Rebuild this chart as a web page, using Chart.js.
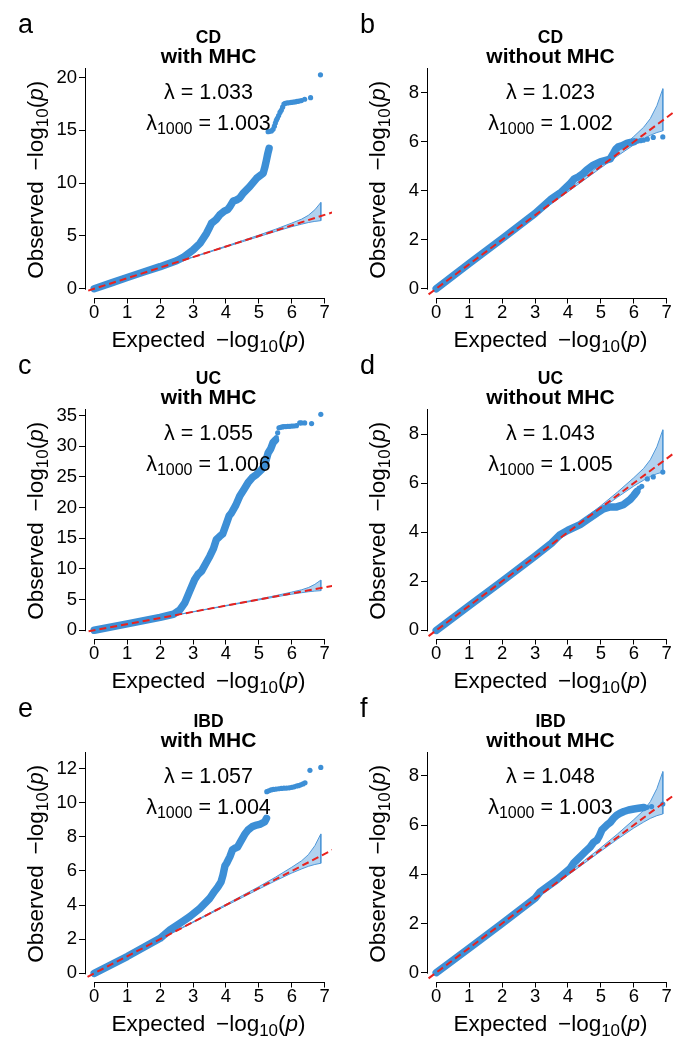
<!DOCTYPE html>
<html>
<head>
<meta charset="utf-8">
<script src="https://cdn.jsdelivr.net/npm/chart.js@4/dist/chart.umd.min.js"></script>
<style>
  body { margin: 0; background: #fff; }
  #wrap { position: relative; width: 685px; height: 1050px; }
  #wrap canvas { position: absolute; }
</style>
</head>
<body>
<div id="wrap"></div>
<script>
// ---- data ----
const ticksX = [0, 1, 2, 3, 4, 5, 6, 7];
const ticksA = [0, 5, 10, 15, 20];
const ticksC = [0, 5, 10, 15, 20, 25, 30, 35];
const ticksE = [0, 2, 4, 6, 8, 10, 12];
const ticks8 = [0, 2, 4, 6, 8];

// null line y = x
const diag = [-0.5, 7.5];

// 95% band (same number of SNPs in all panels)
const ciExp = [0, 2, 3, 4, 4.5, 5, 5.5, 6, 6.3, 6.5, 6.7, 6.88];
const ciHi = [0, 2.01, 3.02, 4.04, 4.56, 5.08, 5.63, 6.22, 6.6, 6.95, 7.48, 8.17];
const ciLo = [0, 1.99, 2.98, 3.96, 4.45, 4.94, 5.42, 5.88, 6.12, 6.27, 6.38, 6.45];

// a: CD with MHC
const aExp = [0, 0.5, 1, 1.5, 2, 2.5, 2.7, 3.0, 3.21, 3.41, 3.5, 3.56, 3.7, 3.81, 3.95, 4.05, 4.12, 4.22, 4.32, 4.42, 4.52, 4.72, 4.93, 5.05, 5.13, 5.18, 5.23, 5.27, 5.31];
const aObs = [0, 0.53, 1.07, 1.58, 2.09, 2.65, 2.97, 3.67, 4.3, 5.25, 5.8, 6.2, 6.55, 6.99, 7.35, 7.5, 7.77, 8.3, 8.41, 8.6, 9.04, 9.67, 10.46, 10.75, 10.94, 11.5, 12.2, 12.8, 13.3];
const aTopExp = [5.28, 5.33, 5.38, 5.43, 5.47, 5.5, 5.53, 5.56, 5.6, 5.64, 5.68, 5.72, 5.76, 5.8, 5.86, 5.92, 5.98, 6.04, 6.1, 6.16, 6.22, 6.29, 6.39, 6.57, 6.87];
const aTopObs = [14.88, 14.92, 14.95, 15.1, 15.4, 15.7, 15.95, 16.15, 16.4, 16.7, 16.9, 17.2, 17.5, 17.57, 17.6, 17.62, 17.65, 17.68, 17.7, 17.74, 17.78, 17.82, 17.95, 18.1, 20.26];

// b: CD without MHC
const bExp = [0, 1, 2, 3, 3.5, 3.8, 4.07, 4.2, 4.32, 4.45, 4.57, 4.77, 4.98, 5.15, 5.28, 5.38, 5.45, 5.53, 5.65, 5.8, 5.9, 6.0];
const bObs = [0, 1.03, 2.04, 3.07, 3.67, 3.95, 4.3, 4.5, 4.57, 4.7, 4.85, 5.05, 5.18, 5.25, 5.3, 5.53, 5.7, 5.8, 5.85, 5.95, 5.98, 6.0];
const bTopExp = [6.1, 6.2, 6.29, 6.41, 6.59, 6.88];
const bTopObs = [6.03, 6.05, 6.07, 6.11, 6.18, 6.2];

// c: UC with MHC
const cExp = [0, 1, 2, 2.4, 2.6, 2.75, 2.9, 3.05, 3.15, 3.26, 3.4, 3.51, 3.62, 3.71, 3.81, 3.9, 4.02, 4.1, 4.17, 4.3, 4.42, 4.55, 4.67, 4.8, 4.93, 5.08, 5.18, 5.28, 5.36, 5.43, 5.5];
const cObs = [0, 1.03, 2.1, 2.6, 3.3, 4.46, 6.37, 8.27, 9.1, 9.63, 11.0, 12.07, 13.3, 14.8, 15.3, 15.7, 17.5, 18.7, 19.15, 20.4, 21.9, 23.0, 24.05, 24.9, 25.4, 26.2, 27.0, 28.9, 29.6, 30.6, 31.0];
const cTopExp = [5.53, 5.57, 5.61, 5.66, 5.71, 5.76, 5.82, 5.88, 5.94, 6.0, 6.06, 6.14, 6.24, 6.29, 6.39, 6.6, 6.88];
const cTopObs = [31.4, 32.2, 33.0, 33.1, 33.15, 33.2, 33.2, 33.25, 33.25, 33.3, 33.3, 33.35, 33.8, 33.8, 33.8, 33.7, 35.2];

// d: UC without MHC
const dExp = [0, 1, 2, 3, 3.5, 3.76, 4.0, 4.37, 4.6, 4.88, 5.08, 5.28, 5.48, 5.68, 5.89, 6.0, 6.09];
const dObs = [0, 1.0, 2.0, 3.02, 3.55, 3.9, 4.08, 4.31, 4.52, 4.78, 4.95, 5.03, 5.03, 5.12, 5.33, 5.5, 5.66];
const dTopExp = [6.16, 6.24, 6.41, 6.59, 6.88];
const dTopObs = [5.8, 5.87, 6.17, 6.25, 6.45];

// e: IBD with MHC
const eExp = [0, 1, 2, 2.3, 2.6, 2.9, 3.21, 3.51, 3.65, 3.76, 3.85, 3.91, 3.97, 4.02, 4.12, 4.2, 4.27, 4.35, 4.47, 4.57, 4.67, 4.8, 4.93, 5.05, 5.18, 5.23];
const eObs = [0, 0.98, 2.05, 2.54, 2.93, 3.32, 3.81, 4.4, 4.8, 5.08, 5.35, 5.76, 6.3, 6.45, 6.84, 7.25, 7.33, 7.4, 7.81, 8.15, 8.4, 8.6, 8.69, 8.75, 8.89, 9.08];
const eTopExp = [5.24, 5.3, 5.37, 5.44, 5.52, 5.6, 5.68, 5.76, 5.84, 5.92, 6.0, 6.07, 6.14, 6.2, 6.27, 6.34, 6.4, 6.55, 6.88];
const eTopObs = [10.65, 10.7, 10.75, 10.78, 10.8, 10.82, 10.84, 10.85, 10.86, 10.87, 10.9, 10.93, 10.98, 11.0, 11.05, 11.1, 11.17, 11.9, 12.07];

// f: IBD without MHC
const fExp = [0, 1, 2, 3, 3.16, 3.66, 4.07, 4.17, 4.27, 4.42, 4.55, 4.67, 4.78, 4.88, 4.95, 5.03, 5.18, 5.28, 5.38, 5.48, 5.58, 5.7, 5.84, 6.0, 6.14, 6.3];
const fObs = [0, 0.99, 2.0, 3.02, 3.29, 3.77, 4.24, 4.45, 4.58, 4.78, 4.95, 5.1, 5.3, 5.39, 5.55, 5.8, 6.0, 6.1, 6.27, 6.4, 6.48, 6.55, 6.61, 6.65, 6.68, 6.71];
const fTopExp = [6.4, 6.54, 6.88];
const fTopObs = [6.72, 6.75, 6.85];

const panels = [
  { tag: 'a', dis: 'CD', sub: 'with MHC', lam: '1.033', lam1000: '1.003', ex: aExp, ob: aObs, tx: aTopExp, ty: aTopObs, yt: ticksA, yMin: -0.83, yMax: 21.1, left: 0, top: 0 },
  { tag: 'b', dis: 'CD', sub: 'without MHC', lam: '1.023', lam1000: '1.002', ex: bExp, ob: bObs, tx: bTopExp, ty: bTopObs, yt: ticks8, yMin: -0.36, yMax: 9.1, left: 342, top: 0 },
  { tag: 'c', dis: 'UC', sub: 'with MHC', lam: '1.055', lam1000: '1.006', ex: cExp, ob: cObs, tx: cTopExp, ty: cTopObs, yt: ticksC, yMin: -1.35, yMax: 36.4, left: 0, top: 341 },
  { tag: 'd', dis: 'UC', sub: 'without MHC', lam: '1.043', lam1000: '1.005', ex: dExp, ob: dObs, tx: dTopExp, ty: dTopObs, yt: ticks8, yMin: -0.33, yMax: 9.1, left: 342, top: 341 },
  { tag: 'e', dis: 'IBD', sub: 'with MHC', lam: '1.057', lam1000: '1.004', ex: eExp, ob: eObs, tx: eTopExp, ty: eTopObs, yt: ticksE, yMin: -0.48, yMax: 13.09, left: 0, top: 684 },
  { tag: 'f', dis: 'IBD', sub: 'without MHC', lam: '1.048', lam1000: '1.003', ex: fExp, ob: fObs, tx: fTopExp, ty: fTopObs, yt: ticks8, yMin: -0.36, yMax: 9.05, left: 342, top: 684 }
];

const BLUE = '#3d8fd6';
const FAM = '"Liberation Sans", Arial, Helvetica, sans-serif';
const f = (size, w) => (w || '') + ' ' + size + 'px ' + FAM;

function pts(xs, ys) { return xs.map((v, i) => ({ x: v, y: ys[i] })); }

// draw a centred line made of pieces [text, font, dy]
function rich(ctx, parts, x, y) {
  let w = 0;
  parts.forEach(p => { ctx.font = p[1]; w += ctx.measureText(p[0]).width; });
  let cx = x - w / 2;
  ctx.textAlign = 'left';
  ctx.textBaseline = 'alphabetic';
  parts.forEach(p => {
    ctx.font = p[1];
    ctx.fillText(p[0], cx, y + (p[2] || 0));
    cx += ctx.measureText(p[0]).width;
  });
}

const deco = {
  id: 'deco',
  afterDraw(chart) {
    const p = chart.config.options.plugins.deco;
    const { ctx, chartArea: ca, scales: { x, y } } = chart;
    ctx.save();
    // axis lines
    ctx.strokeStyle = '#000';
    ctx.lineWidth = 1;
    ctx.beginPath();
    const lx = Math.round(ca.left) + 0.5, by = Math.round(ca.bottom) + 0.5;
    ctx.moveTo(lx, ca.top + 2);
    ctx.lineTo(lx, y.getPixelForValue(0) + 1);
    ctx.moveTo(x.getPixelForValue(ticksX[0]), by);
    ctx.lineTo(x.getPixelForValue(ticksX[ticksX.length - 1]), by);
    ctx.stroke();

    ctx.fillStyle = '#000';
    const cx = (ca.left + ca.right) / 2;
    // panel letter
    ctx.font = f(27);
    ctx.textAlign = 'left';
    ctx.textBaseline = 'alphabetic';
    ctx.fillText(p.tag, 18, 33);
    // titles
    rich(ctx, [[p.dis, f(17.5, 'bold')]], cx, ca.top - 22.7);
    rich(ctx, [[p.sub, f(21, 'bold')]], cx, ca.top - 2.7);
    // lambda
    rich(ctx, [['\u03bb = ' + p.lam, f(21.5)]], cx, ca.top + 33);
    rich(ctx, [['\u03bb', f(21.5)], ['1000', f(16), 4], [' = ' + p.lam1000, f(21.5)]], cx, ca.top + 64);
    // axis titles
    const lab = w => [[w + ' \u2009\u2212log', f(22.5)], ['10', f(17), 5], ['(', f(22.5)], ['p', f(22.5, 'italic')], [')', f(22.5)]];
    rich(ctx, lab('Expected'), cx, ca.bottom + 49);
    ctx.translate(ca.left - 41.7, (ca.top + ca.bottom) / 2 - 2);
    ctx.rotate(-Math.PI / 2);
    rich(ctx, lab('Observed'), 0, 0);
    ctx.restore();
  }
};

const wrap = document.getElementById('wrap');
panels.forEach(p => {
  const cv = document.createElement('canvas');
  cv.width = 342; cv.height = 362;
  cv.style.left = p.left + 'px';
  cv.style.top = p.top + 'px';
  wrap.appendChild(cv);

  const band = pts(ciExp, ciHi).concat(pts(ciExp, ciLo).reverse());
  const axisTicks = vals => s => { s.ticks = vals.map(v => ({ value: v })); };
  const tickFont = { family: FAM, size: 18.5 };

  new Chart(cv, {
    type: 'line',
    data: {
      datasets: [
        { data: pts(diag, diag), borderColor: '#e8221e', borderWidth: 2, borderDash: [7, 4], pointRadius: 0, order: 0 },
        { data: pts(p.tx, p.ty), showLine: false, pointRadius: 2.6, pointBackgroundColor: BLUE, pointBorderWidth: 0, order: 1 },
        { data: pts(p.ex, p.ob), borderColor: BLUE, borderWidth: 7.5, borderCapStyle: 'round', borderJoinStyle: 'round', pointRadius: 0, order: 2 },
        { data: band, borderColor: '#4f97d8', borderWidth: 1, backgroundColor: 'rgba(61,143,214,0.4)', fill: 'shape', pointRadius: 0, order: 3 }
      ]
    },
    options: {
      responsive: false,
      animation: false,
      events: [],
      devicePixelRatio: 1,
      layout: { padding: { left: 45, top: 66, right: 10, bottom: 34.5 } },
      plugins: {
        legend: { display: false },
        tooltip: { enabled: false },
        deco: p
      },
      scales: {
        x: {
          type: 'linear', min: -0.28, max: 7.22,
          afterBuildTicks: axisTicks(ticksX),
          afterFit: s => { s.height = 30; s.paddingLeft = s.paddingRight = s.paddingTop = s.paddingBottom = 0; },
          grid: { drawOnChartArea: false, drawTicks: true, tickLength: 6, color: '#000' },
          border: { display: false },
          ticks: { color: '#000', font: tickFont, padding: -2, maxRotation: 0, autoSkip: false }
        },
        y: {
          type: 'linear', min: p.yMin, max: p.yMax,
          afterBuildTicks: axisTicks(p.yt),
          afterFit: s => { s.width = 40; s.paddingLeft = s.paddingRight = s.paddingTop = s.paddingBottom = 0; },
          grid: { drawOnChartArea: false, drawTicks: true, tickLength: 6, color: '#000' },
          border: { display: false },
          ticks: { color: '#000', font: tickFont, padding: 2, autoSkip: false }
        }
      }
    },
    plugins: [deco]
  });
});
</script>
</body>
</html>
